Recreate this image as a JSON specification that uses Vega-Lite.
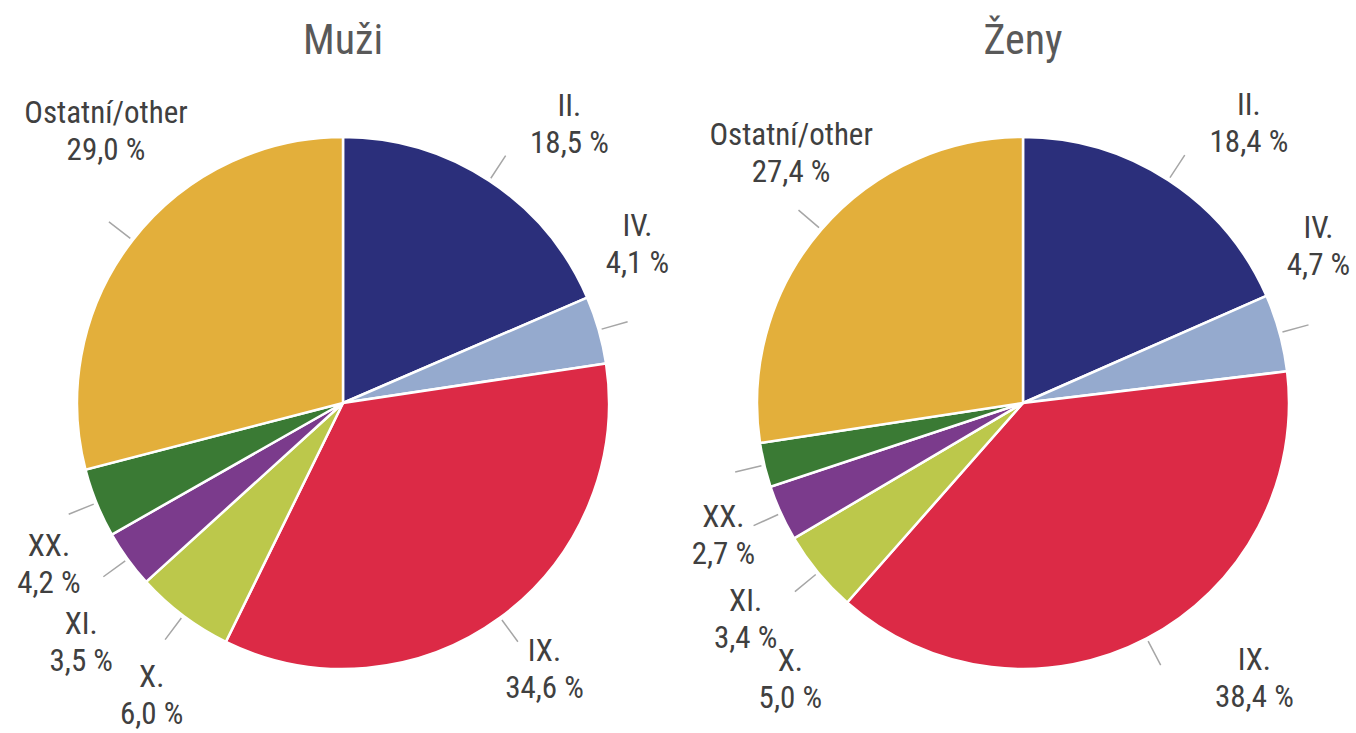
{
  "$schema": "https://vega.github.io/schema/vega-lite/v6.json",
  "padding": {"left": 9, "top": 20, "right": 0, "bottom": 0},
  "bounds": "flush",
  "spacing": 12,
  "data": {"values": [
    {"sex": "Muži", "cat": "II.", "order": 1, "value": 18.5},
    {"sex": "Muži", "cat": "IV.", "order": 2, "value": 4.1},
    {"sex": "Muži", "cat": "IX.", "order": 3, "value": 34.6},
    {"sex": "Muži", "cat": "X.", "order": 4, "value": 6.0},
    {"sex": "Muži", "cat": "XI.", "order": 5, "value": 3.5},
    {"sex": "Muži", "cat": "XX.", "order": 6, "value": 4.2},
    {"sex": "Muži", "cat": "Ostatní/other", "order": 7, "value": 29.0},
    {"sex": "Ženy", "cat": "II.", "order": 1, "value": 18.4},
    {"sex": "Ženy", "cat": "IV.", "order": 2, "value": 4.7},
    {"sex": "Ženy", "cat": "IX.", "order": 3, "value": 38.4},
    {"sex": "Ženy", "cat": "X.", "order": 4, "value": 5.0},
    {"sex": "Ženy", "cat": "XI.", "order": 5, "value": 3.4},
    {"sex": "Ženy", "cat": "XX.", "order": 6, "value": 2.7},
    {"sex": "Ženy", "cat": "Ostatní/other", "order": 7, "value": 27.4}
  ]},
  "transform": [
    {"stack": "value", "groupby": ["sex"], "offset": "normalize", "sort": [{"field": "order", "order": "ascending"}], "as": ["s0", "s1"]},
    {"calculate": "(datum.s0 + datum.s1) / 2", "as": "mid"},
    {"calculate": "[datum.cat, replace(format(datum.value, '.1f'), '.', ',') + ' %']", "as": "label"}
  ],
  "facet": {
    "column": {
      "field": "sex", "type": "nominal", "sort": ["Muži", "Ženy"],
      "header": {"title": null, "labelFontSize": 42, "labelFont": "Roboto Condensed, Liberation Sans Narrow, DejaVu Sans Condensed, Liberation Sans, sans-serif", "labelColor": "#595959", "labelPadding": 10}
    }
  },
  "spec": {
    "width": 668,
    "height": 660,
    "resolve": {"scale": {"theta": "independent", "radius": "independent"}},
    "layer": [
      {
        "mark": {"type": "arc", "outerRadius": 266, "stroke": "#ffffff", "strokeWidth": 2.5},
        "encoding": {
          "theta": {"field": "s0", "type": "quantitative", "scale": {"domain": [0, 1]}},
          "theta2": {"field": "s1"},
          "color": {
            "field": "cat", "type": "nominal",
            "scale": {
              "domain": ["II.", "IV.", "IX.", "X.", "XI.", "XX.", "Ostatní/other"],
              "range": ["#2B2F7B", "#95AACE", "#DC2A46", "#BCC84B", "#7B3B8C", "#3A7A34", "#E3AF3B"]
            },
            "legend": null
          }
        }
      },
      {
        "mark": {"type": "arc", "radius": 296, "radius2": 269, "stroke": "#A6A6A6", "strokeWidth": 1.5, "fill": null},
        "encoding": {
          "theta": {"field": "mid", "type": "quantitative", "scale": {"domain": [0, 1]}},
          "theta2": {"field": "mid"}
        }
      },
      {
        "mark": {
          "type": "text", "dy": -18,
          "font": "Roboto Condensed, Liberation Sans Narrow, DejaVu Sans Condensed, Liberation Sans, sans-serif",
          "fontSize": 31, "lineHeight": 37, "color": "#404040", "align": "center", "baseline": "middle"
        },
        "encoding": {
          "theta": {
            "field": "mid", "type": "quantitative",
            "scale": {
              "domain": [0, 0.092, 0.207, 0.399, 0.423, 0.602, 0.64, 0.65, 0.682, 0.688, 0.7125, 0.854, 0.863, 1],
              "range": [0, 0.6807, 1.0821, 2.4958, 2.4435, 3.7176, 3.8397, 3.9706, 4.0492, 4.2062, 4.2935, 5.5676, 5.5327, 6.2832]
            }
          },
          "radius": {
            "field": "mid", "type": "quantitative",
            "scale": {
              "type": "linear", "zero": false,
              "domain": [0, 0.092, 0.207, 0.399, 0.423, 0.602, 0.64, 0.65, 0.682, 0.688, 0.7125, 0.854, 0.863, 1],
              "range": [359, 359, 334, 334, 360, 350, 362, 355, 352, 336, 328, 362, 340, 359]
            }
          },
          "text": {"field": "label"}
        }
      }
    ]
  },
  "config": {"view": {"stroke": null}}
}
